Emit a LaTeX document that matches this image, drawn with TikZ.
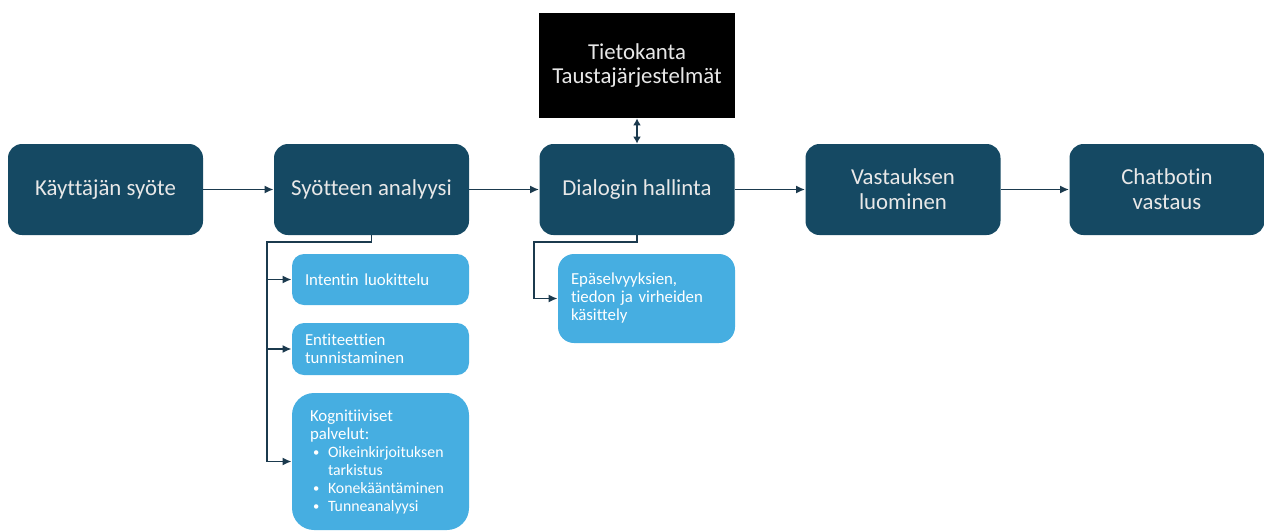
\documentclass[tikz,border=0pt]{standalone}
\usepackage{fontspec}
\setmainfont{Carlito}[Ligatures=CommonOff]
\usepackage{tikz}
\usetikzlibrary{arrows.meta,positioning,calc}
\usepackage{xcolor}

\definecolor{stepblue}{RGB}{21,73,99}
\definecolor{subblue}{RGB}{70,174,225}
\definecolor{linkblue}{RGB}{27,58,78}
\definecolor{steptext}{RGB}{232,232,232}

\tikzset{
  mainbox/.style={rectangle, rounded corners=7pt, fill=stepblue, text=steptext,
    minimum width=97.5pt, minimum height=45.5pt, align=center,
    font=\fontsize{11.4pt}{12.5pt}\selectfont},
  subbox/.style={rectangle, rounded corners=6pt, fill=subblue, text=white,
    minimum width=88.5pt, text width=75.5pt, inner xsep=6.5pt, align=left,
    font=\fontsize{8.4pt}{9pt}\selectfont},
  arrow/.style={draw=linkblue, line width=0.85pt, -{Latex[length=4.5pt,width=4pt]}},
  link/.style={draw=linkblue, line width=0.85pt}
}
\newcommand{\bulletitem}[1]{\makebox[9pt][l]{\hspace{1.5pt}\raisebox{0.4pt}{\scalebox{0.75}{\textbullet}}}{\fontsize{7.9pt}{9pt}\selectfont #1}}
\newcommand{\bulletcont}[1]{\hspace{9pt}{\fontsize{7.9pt}{9pt}\selectfont #1}}

\begin{document}
\begin{tikzpicture}[x=0.5pt, y=-0.5pt]
    \useasboundingbox (0,0) rectangle (1264,531);

    % Main steps
    \node[mainbox] (syote) at (105.5, 189.5) {Käyttäjän syöte};
    \node[mainbox] (analyysi) at (371.5, 189.5) {Syötteen analyysi};
    \node[mainbox] (dialogi) at (637, 189.5) {Dialogin hallinta};
    \node[mainbox] (luominen) at (903, 189.5) {Vastauksen\\luominen};
    \node[mainbox] (vastaus) at (1167, 189.5) {Chatbotin\\vastaus};

    % Database on top
    \node[rectangle, fill=black, text=steptext, minimum width=98pt, minimum height=52.5pt,
        align=center, font=\fontsize{11.4pt}{12pt}\selectfont]
        (tietokanta) at (637, 65.5) {Tietokanta\\Taustajärjestelmät};

    % Analysis sub steps
    \node[subbox, minimum height=25.5pt] (intentti) at (380.5, 279.5) {Intentin luokittelu};
    \node[subbox, minimum height=26pt] (entiteetti) at (380.5, 349) {Entiteettien\\tunnistaminen};
    \node[subbox, minimum height=68.5pt, rounded corners=11pt, inner xsep=9pt, text width=70.5pt]
        (kogn) at (380.5, 461.5)
        {Kognitiiviset\\palvelut:\\
         \bulletitem{Oikeinkirjoituksen}\\
         \bulletcont{tarkistus}\\
         \bulletitem{Konekääntäminen}\\
         \bulletitem{Tunneanalyysi}};

    % Dialogue sub step
    \node[subbox, minimum height=44.5pt, rounded corners=8pt] (kasittely) at (646.5, 298.5)
        {Epäselvyyksien,\\tiedon ja virheiden\\käsittely};

    % Connectors
    \draw[arrow] (syote) -- (analyysi);
    \draw[arrow] (analyysi) -- (dialogi);
    \draw[arrow] (dialogi) -- (luominen);
    \draw[arrow] (luominen) -- (vastaus);
    \draw[draw=linkblue, line width=0.85pt, {Latex[length=3.5pt,width=4pt]}-{Latex[length=3.5pt,width=4pt]}]
        (tietokanta) -- (dialogi);

    \coordinate (trunkA) at (267, 242);
    \draw[link] (analyysi.south) |- (trunkA) -- (trunkA |- kogn.west);
    \foreach \sub in {intentti, entiteetti, kogn}
        \draw[arrow] (trunkA |- \sub.west) -- (\sub.west);

    \coordinate (trunkB) at (534, 242);
    \draw[arrow] (dialogi.south) |- (trunkB) |- (kasittely.west);
\end{tikzpicture}
\end{document}
